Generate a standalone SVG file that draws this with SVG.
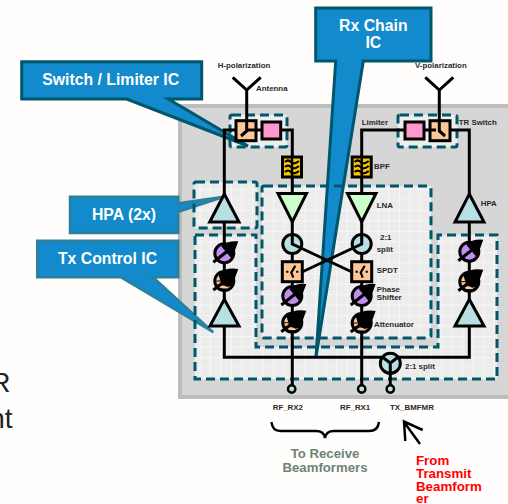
<svg xmlns="http://www.w3.org/2000/svg" xmlns:xlink="http://www.w3.org/1999/xlink" width="508" height="504" viewBox="0 0 508 504">
<style>
text{font-family:"Liberation Sans",Arial,sans-serif}
.lb{font-size:7.9px;font-weight:700;fill:#2a2a2a}
.call{font-size:15.8px;font-weight:700;fill:#fff;text-anchor:middle}
.co{fill:#128acb;stroke:#00566b;stroke-width:3;stroke-linejoin:miter}
.dash{fill:none;stroke:#00566b;stroke-width:3;stroke-dasharray:9 5}
.wire{fill:none;stroke:#000;stroke-width:3}
.box{stroke:#000;stroke-width:3}
.tri{stroke:#000;stroke-width:3;stroke-linejoin:miter}
.red{font-size:13.3px;font-weight:700;fill:#f00}
.grn{font-size:13.2px;font-weight:700;fill:#6f8373;text-anchor:middle}
</style>
<defs>
<pattern id="grid" width="10.5" height="10.5" patternUnits="userSpaceOnUse">
<rect width="10.5" height="10.5" fill="#ececec"/>
<path d="M0 0H10.5M0 0V10.5" stroke="#fff" stroke-width="1"/>
</pattern>
<g id="phase">
<circle r="9.5" fill="#c28df0" stroke="#000" stroke-width="3"/>
<path d="M-11 9L8-6" stroke="#000" stroke-width="3"/>
<path d="M14-12Q3-13-3-7L7 5Q11-3 14-12Z" fill="#000"/>
</g>
<g id="atten">
<circle r="9.5" fill="#fdc896" stroke="#000" stroke-width="3"/>
<path d="M-11 9L6-4" stroke="#000" stroke-width="3"/>
<path d="M14-12Q1-14-6-7L-3 3L3 6L7 5Q11-3 14-12Z" fill="#000"/>
<path d="M-8 0H-2M-7 4H1M-4 8H2" stroke="#000" stroke-width="1"/>
</g>
<g id="spdt">
<rect x="-10" y="-10" width="20" height="20" fill="#fdc896" stroke="#000" stroke-width="3"/>
<path d="M-5-1V1M5-1V1M3-6L-1 1L1 6" fill="none" stroke="#000" stroke-width="2.2"/>
</g>
<g id="bpf">
<rect x="-9.5" y="-10" width="19" height="20" fill="#fbc800" stroke="#000" stroke-width="3"/>
<path d="M0-10V10" stroke="#000" stroke-width="2.5"/>
<path d="M-7-5Q-4-8-1-5T7-6M-7 0Q-4-3-1 0T7-1M-7 5Q-4 2-1 5T7 4" fill="none" stroke="#000" stroke-width="2.2"/>
</g>
</defs>

<rect width="508" height="504" fill="#fffefd"/>
<text x="10.5" y="392" font-size="28" fill="#222" text-anchor="end">R</text>
<text x="12.5" y="428" font-size="28" fill="#222" text-anchor="end">nt</text>

<rect x="178" y="104" width="330" height="295" fill="#bdbdbd"/>
<rect x="182" y="108" width="326" height="287" fill="#d6d6d6"/>

<g id="regions">
<rect x="230" y="115" width="57" height="32" fill="#eeeeee"/>
<rect x="398" y="115" width="59" height="32" fill="#eeeeee"/>
<rect x="194" y="182" width="63" height="46" fill="url(#grid)"/>
<path d="M195 235H256V347H438V235H497V379H195Z" fill="url(#grid)"/>
<rect x="262" y="186" width="169" height="152" fill="url(#grid)"/>
</g>

<g id="callout-rx"><path class="co" d="M315.7 8H431V61H363.3L316 357L335.7 61H315.7Z"/><text class="call" x="373.3" y="31">Rx Chain</text><text class="call" x="373.3" y="48">IC</text></g>
<g id="callout-switch"><path class="co" d="M21.7 61.7H201.7V99H168.3L248 146L126.7 99H21.7Z"/><text class="call" x="110.7" y="85">Switch / Limiter IC</text></g>
<g id="callout-hpa"><path class="co" style="stroke-width:2.5;stroke:#2f7f99" d="M70 196.7H178.3V203.3L224 196.7L178.3 211.7V233H70Z"/><text class="call" x="124" y="220">HPA (2x)</text></g>
<g id="callout-tx"><path class="co" style="stroke-width:2.5;stroke:#2f7f99" d="M37.3 240.7H178.3V277.3H153.3L213.3 332.3L120.7 277.3H37.3Z"/><text class="call" x="107.5" y="264">Tx Control IC</text></g>

<g id="dashes">
<rect class="dash" x="230" y="115" width="57" height="32" rx="2"/>
<rect class="dash" x="398" y="115" width="59" height="32" rx="2"/>
<rect class="dash" x="194" y="182" width="63" height="46" rx="2"/>
<path class="dash" d="M195 235H256V347H438V235H497V379H195Z"/>
<rect class="dash" x="262" y="186" width="169" height="152" rx="2"/>
</g>

<g id="connectors">
<path class="wire" d="M232.7 77.3L246.7 90L260.7 77.3M246.7 90V130"/>
<path class="wire" d="M425.3 77.3L439.3 90L453.3 77.3M439.3 90V130"/>
<path class="wire" d="M236 130H224.3V194M224.3 222V299M224.3 326V357.3H469.3V326M256 130H262M280 130H292.3V194"/>
<path class="wire" d="M292.3 222V385M361.7 222V385M405 130H361.7V194M424 130H430M450 130H469.3V194M469.3 222V299"/>
<path class="wire" d="M390.3 373V385"/>
<path class="wire" d="M292.3 244L352 272M361.7 244L302 272"/>
</g>

<g id="sw-h"><rect class="box" x="236" y="120.7" width="20" height="20" fill="#fdc896"/><path class="wire" d="M246.7 120V131L241 136M248 130H256" stroke-width="2.5"/></g>
<g id="lim-h"><rect class="box" x="262" y="122" width="18.7" height="17" fill="#ff99cc"/></g>
<g id="lim-v"><rect class="box" x="405" y="122" width="19" height="17" fill="#ff99cc"/></g>
<g id="sw-v"><rect class="box" x="430" y="120.7" width="20" height="20" fill="#fdc896"/><path class="wire" d="M439.3 120V131L445 136M430 130H436" stroke-width="2.5"/></g>
<use id="bpf-l" xlink:href="#bpf" href="#bpf" x="292" y="167"/>
<use id="bpf-r" xlink:href="#bpf" href="#bpf" x="361.7" y="167"/>
<g id="hpa-1"><path class="tri" d="M224.3 194L239 222H209.7Z" fill="#b8dfe3"/></g>
<g id="hpa-2"><path class="tri" d="M469.3 194L484 222H455Z" fill="#b8dfe3"/></g>
<g id="lna-1"><path class="tri" d="M278 193.5H306.5L292.3 222Z" fill="#ccffcc"/></g>
<g id="lna-2"><path class="tri" d="M347.5 193.5H376L361.7 222Z" fill="#ccffcc"/></g>
<g id="amp-1"><path class="tri" d="M224.3 299.3L239 326H210Z" fill="#b8dfe3"/></g>
<g id="amp-2"><path class="tri" d="M469.3 299.3L484 326H455Z" fill="#b8dfe3"/></g>
<use id="ps-1" xlink:href="#phase" href="#phase" x="224.3" y="253.3"/>
<use id="at-1" xlink:href="#atten" href="#atten" x="224.3" y="281"/>
<use id="ps-2" xlink:href="#phase" href="#phase" x="469.3" y="251.7"/>
<use id="at-2" xlink:href="#atten" href="#atten" x="469.3" y="281.7"/>
<use id="ps-3" xlink:href="#phase" href="#phase" x="292.3" y="296"/>
<use id="at-3" xlink:href="#atten" href="#atten" x="292.3" y="322.7"/>
<use id="ps-4" xlink:href="#phase" href="#phase" x="361.7" y="296"/>
<use id="at-4" xlink:href="#atten" href="#atten" x="361.7" y="323"/>
<g id="split-1"><circle cx="292.3" cy="244" r="9.5" fill="#b8dfe3" stroke="#000" stroke-width="3"/><path class="wire" d="M292.3 234V244L301 248"/></g>
<g id="split-2"><circle cx="361.7" cy="244" r="9.5" fill="#b8dfe3" stroke="#000" stroke-width="3"/><path class="wire" d="M361.7 234V244L353 248"/></g>
<use id="spdt-1" xlink:href="#spdt" href="#spdt" x="292.3" y="271.7"/>
<use id="spdt-2" xlink:href="#spdt" href="#spdt" x="361.7" y="271.7"/>
<g id="split-3"><circle cx="390.3" cy="363.3" r="10" fill="#b8dfe3" stroke="#000" stroke-width="3"/><path class="wire" d="M383 357.5L390.3 363V373M397.6 357.5L390.3 363"/></g>
<g id="port-1"><circle cx="291.7" cy="389" r="3.7" fill="#b8dfe3" stroke="#000" stroke-width="2.4"/></g>
<g id="port-2"><circle cx="361.7" cy="389" r="3.7" fill="#b8dfe3" stroke="#000" stroke-width="2.4"/></g>
<g id="port-3"><circle cx="390.3" cy="389" r="3.7" fill="#b8dfe3" stroke="#000" stroke-width="2.4"/></g>

<g id="labels">
<text class="lb" x="217.7" y="67.5">H-polarization</text>
<text class="lb" x="415" y="67.5">V-polarization</text>
<text class="lb" x="256" y="90.5">Antenna</text>
<text class="lb" x="361.7" y="124.5">Limiter</text>
<text class="lb" x="458.7" y="124.5">TR Switch</text>
<text class="lb" x="374" y="168.5">BPF</text>
<text class="lb" x="376.7" y="207.5">LNA</text>
<text class="lb" x="480.7" y="205.5">HPA</text>
<text class="lb" x="380" y="239.5">2:1</text>
<text class="lb" x="376.7" y="251.5">split</text>
<text class="lb" x="376.7" y="272.5">SPDT</text>
<text class="lb" x="376.7" y="291.5">Phase</text>
<text class="lb" x="376.7" y="299.5">Shifter</text>
<text class="lb" x="374" y="326.5">Attenuator</text>
<text class="lb" x="405" y="368.5">2:1 split</text>
<text class="lb" x="272.7" y="409.5">RF_RX2</text>
<text class="lb" x="340" y="409.5">RF_RX1</text>
<text class="lb" x="390" y="409.5">TX_BMFMR</text>
<text class="grn" x="325" y="458">To Receive</text>
<text class="grn" x="325" y="472">Beamformers</text>
<text class="red" x="416" y="464.5">From</text>
<text class="red" x="416" y="478">Transmit</text>
<text class="red" x="416" y="491">Beamform</text>
<text class="red" x="416" y="503">er</text>
</g>
<g id="annot">
<path d="M271.5 422Q272 431 281 431H316Q324 431 325 438Q326 431 334 431H369Q378 431 379 422" fill="none" stroke="#000" stroke-width="2.4"/>
<path d="M420 444L404 422M422.7 430L404 421.5L405.3 441" fill="none" stroke="#000" stroke-width="2.5"/>
</g>
</svg>
